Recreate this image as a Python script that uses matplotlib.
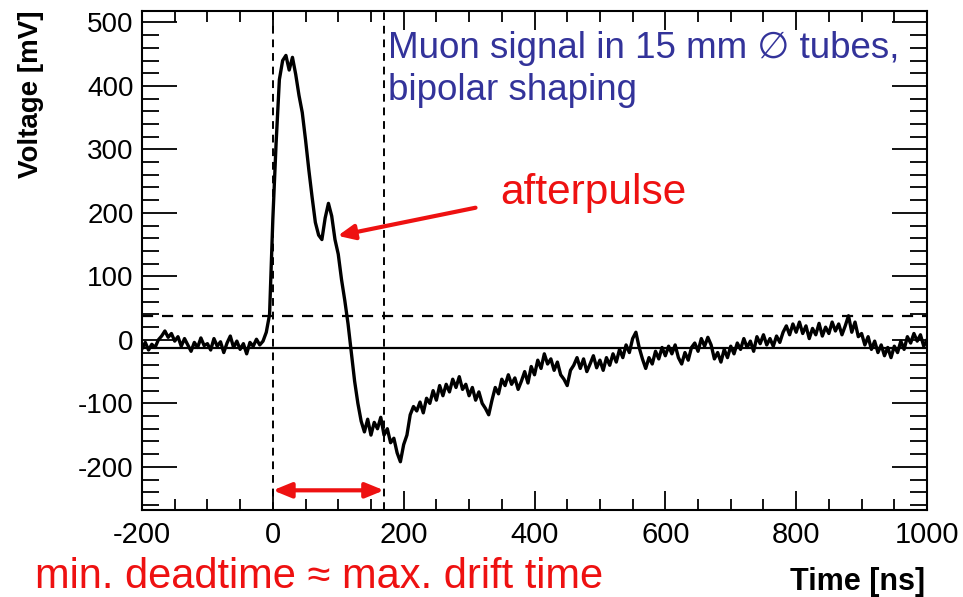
import matplotlib.pyplot as plt
import numpy as np

plt.rcParams['font.family'] = ['Liberation Sans', 'DejaVu Sans']
plt.rcParams['axes.unicode_minus'] = False

t_start, t_step = -200, 5
# Voltage [mV], one row per 100 ns
voltage = [
    -14, -4, -16, -7, -12, 0, 6, 14, 4, 10, -2, 5, -10, 2, -8, -18, -4, -12, 3, -9,
    -6, -16, 2, -10, -3, -20, -5, 6, -12, -2, -15, -6, -22, -4, -10, 1, -8, -2, 12, 40,
    190, 310, 410, 440, 448, 425, 445, 418, 385, 358, 315, 268, 225, 185, 165, 158, 192, 215, 195, 158,
    135, 95, 62, 25, -20, -65, -100, -128, -145, -125, -150, -130, -140, -122, -150, -140, -162, -155, -178, -192,
    -165, -150, -118, -105, -112, -98, -115, -92, -100, -80, -95, -72, -88, -70, -82, -62, -75, -58, -78, -70,
    -88, -75, -95, -82, -100, -108, -118, -95, -75, -85, -62, -72, -55, -70, -60, -78, -65, -50, -68, -42,
    -55, -32, -45, -22, -38, -30, -48, -35, -55, -62, -72, -48, -40, -28, -45, -30, -50, -38, -25, -44,
    -32, -48, -28, -40, -22, -35, -15, -28, -8, -20, 2, 12, -12, -30, -45, -28, -38, -18, -30, -12,
    -25, -10, -22, -8, -28, -38, -20, -32, -12, -5, -18, 2, -10, 4, -8, -30, -20, -35, -15, -28,
    -10, -22, -5, -15, 2, -12, -2, -18, 5, -6, 8, -8, 2, -10, 6, -4, 12, 22, 8, 25,
    12, 28, 10, 22, 2, 18, 8, 26, 6, 20, 10, 28, 14, 25, 8, 22, 38, 12, 28, 5,
    10, -8, 5, -15, -2, -20, -8, -25, -12, -28, -10, -20, -2, -15, 5, -5, 10, -2, 8, -10,
    0,
]
time = t_start + t_step * np.arange(len(voltage))

baseline = -13      # solid baseline [mV]
threshold = 38      # dashed threshold [mV]
t_open, t_close = 0, 170   # dashed deadtime window [ns]

red = '#ee1111'

fig = plt.figure(figsize=(9.63, 5.97), dpi=100)
ax = fig.add_axes([142 / 963, 1 - 510 / 597, 785 / 963, 499 / 597])

ax.plot(time, voltage, color='black', lw=2.4)
ax.axhline(baseline, color='black', lw=1.6)
ax.axhline(threshold, color='black', lw=1.6, ls=(0, (5, 4)))
ax.axvline(t_open, color='black', lw=1.4, ls=(0, (4, 3)))
ax.axvline(t_close, color='black', lw=1.4, ls=(0, (4, 3)))

ax.set_xlim(-200, 1000)
ax.set_ylim(-268, 518)
ax.set_xticks(np.arange(-200, 1001, 200))
ax.set_xticks(np.arange(-200, 1001, 50), minor=True)
ax.set_yticks(np.arange(-200, 501, 100))
ax.set_yticks(np.arange(-260, 518, 20), minor=True)
ax.tick_params(axis='both', which='both', direction='in', top=True, right=True, width=1.3)
ax.tick_params(axis='y', which='major', length=25, labelsize=20, pad=6)
ax.tick_params(axis='y', which='minor', length=12)
ax.tick_params(axis='x', which='major', length=14, labelsize=21, pad=8)
ax.tick_params(axis='x', which='minor', length=8)
for s in ax.spines.values():
    s.set_linewidth(1.5)

fig.text(31 / 963, 1 - 10 / 597, 'Voltage [mV]', fontsize=20, fontweight='bold',
         rotation=90, ha='center', va='top')

ax.text(176, 486, 'Muon signal in 15 mm \u2205 tubes,\nbipolar shaping',
        color='#33339a', fontsize=26.5, va='top', ha='left', linespacing=1.25)

ax.annotate('', xy=(95, 163), xytext=(314, 209),
            arrowprops=dict(arrowstyle='-|>,head_length=1.0,head_width=0.45',
                            color=red, lw=3))
ax.text(348, 231, 'afterpulse', color=red, fontsize=30.5, va='center', ha='left')

ax.annotate('', xy=(t_open, -237), xytext=(t_close, -237),
            arrowprops=dict(arrowstyle='<|-|>,head_length=1.1,head_width=0.45',
                            color=red, lw=3, shrinkA=0, shrinkB=0))

fig.text(35 / 963, 1 - 588 / 597, 'min. deadtime \u2248 max. drift time',
         color=red, fontsize=30, ha='left', va='baseline')
fig.text(925 / 963, 1 - 590 / 597, 'Time [ns]', fontsize=22, fontweight='bold',
         ha='right', va='baseline')

fig.savefig('out.png', dpi=100)
